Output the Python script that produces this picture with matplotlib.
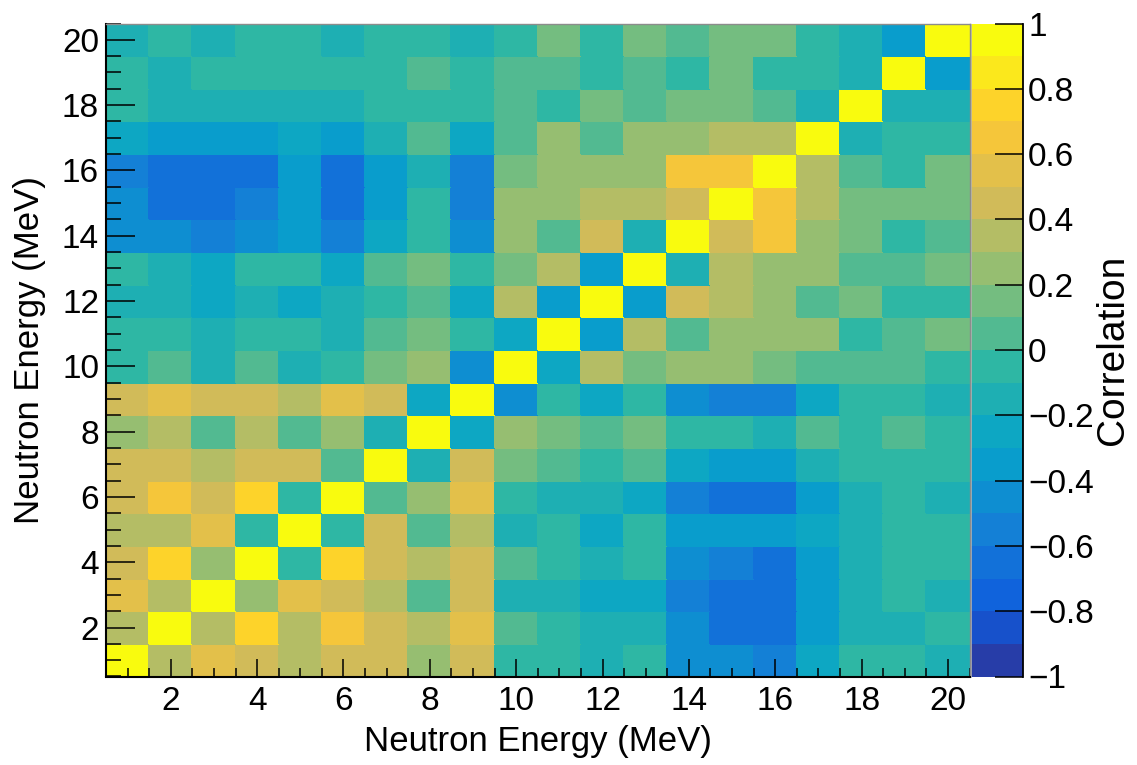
import numpy as np
import matplotlib
matplotlib.use("Agg")
import matplotlib.pyplot as plt
from matplotlib.colors import ListedColormap
from matplotlib.ticker import MultipleLocator, FuncFormatter

plt.rcParams['font.family'] = ['Liberation Sans', 'DejaVu Sans']

# neutron energy bins (MeV), 1..20
energy = np.arange(1, 21)
edges = np.arange(0.5, 21.0, 1.0)

# correlation matrix, one row per y bin (1 MeV at the bottom), columns x = 1..20
row01 = [1.0, 0.35, 0.55, 0.45, 0.35, 0.45, 0.45, 0.25, 0.45, -0.05, -0.05, -0.15, -0.05, -0.45, -0.45, -0.55, -0.25, -0.05, -0.05, -0.15]
row02 = [0.35, 1.0, 0.35, 0.75, 0.35, 0.65, 0.45, 0.35, 0.55, 0.05, -0.05, -0.15, -0.15, -0.45, -0.65, -0.65, -0.35, -0.15, -0.15, -0.05]
row03 = [0.55, 0.35, 1.0, 0.25, 0.55, 0.45, 0.35, 0.05, 0.45, -0.15, -0.15, -0.25, -0.25, -0.55, -0.65, -0.65, -0.35, -0.15, -0.05, -0.15]
row04 = [0.45, 0.75, 0.25, 1.0, -0.05, 0.75, 0.45, 0.35, 0.45, 0.05, -0.05, -0.15, -0.05, -0.45, -0.55, -0.65, -0.35, -0.15, -0.05, -0.05]
row05 = [0.35, 0.35, 0.55, -0.05, 1.0, -0.05, 0.45, 0.05, 0.35, -0.15, -0.05, -0.25, -0.05, -0.35, -0.35, -0.35, -0.25, -0.15, -0.05, -0.05]
row06 = [0.45, 0.65, 0.45, 0.75, -0.05, 1.0, 0.05, 0.25, 0.55, -0.05, -0.15, -0.15, -0.25, -0.55, -0.65, -0.65, -0.35, -0.15, -0.05, -0.15]
row07 = [0.45, 0.45, 0.35, 0.45, 0.45, 0.05, 1.0, -0.15, 0.45, 0.15, 0.05, -0.05, 0.05, -0.25, -0.35, -0.35, -0.15, -0.05, -0.05, -0.05]
row08 = [0.25, 0.35, 0.05, 0.35, 0.05, 0.25, -0.15, 1.0, -0.25, 0.25, 0.15, 0.05, 0.15, -0.05, -0.05, -0.15, 0.05, -0.05, 0.05, -0.05]
row09 = [0.45, 0.55, 0.45, 0.45, 0.35, 0.55, 0.45, -0.25, 1.0, -0.45, -0.05, -0.25, -0.05, -0.45, -0.55, -0.55, -0.25, -0.05, -0.05, -0.15]
row10 = [-0.05, 0.05, -0.15, 0.05, -0.15, -0.05, 0.15, 0.25, -0.45, 1.0, -0.25, 0.35, 0.15, 0.25, 0.25, 0.15, 0.05, 0.05, 0.05, -0.05]
row11 = [-0.05, -0.05, -0.15, -0.05, -0.05, -0.15, 0.05, 0.15, -0.05, -0.25, 1.0, -0.35, 0.35, 0.05, 0.25, 0.25, 0.25, -0.05, 0.05, 0.15]
row12 = [-0.15, -0.15, -0.25, -0.15, -0.25, -0.15, -0.05, 0.05, -0.25, 0.35, -0.35, 1.0, -0.35, 0.45, 0.35, 0.25, 0.05, 0.15, -0.05, -0.05]
row13 = [-0.05, -0.15, -0.25, -0.05, -0.05, -0.25, 0.05, 0.15, -0.05, 0.15, 0.35, -0.35, 1.0, -0.15, 0.35, 0.25, 0.25, 0.05, 0.05, 0.15]
row14 = [-0.45, -0.45, -0.55, -0.45, -0.35, -0.55, -0.25, -0.05, -0.45, 0.25, 0.05, 0.45, -0.15, 1.0, 0.45, 0.65, 0.25, 0.15, -0.05, 0.05]
row15 = [-0.45, -0.65, -0.65, -0.55, -0.35, -0.65, -0.35, -0.05, -0.55, 0.25, 0.25, 0.35, 0.35, 0.45, 1.0, 0.65, 0.35, 0.15, 0.15, 0.15]
row16 = [-0.55, -0.65, -0.65, -0.65, -0.35, -0.65, -0.35, -0.15, -0.55, 0.15, 0.25, 0.25, 0.25, 0.65, 0.65, 1.0, 0.35, 0.05, -0.05, 0.15]
row17 = [-0.25, -0.35, -0.35, -0.35, -0.25, -0.35, -0.15, 0.05, -0.25, 0.05, 0.25, 0.05, 0.25, 0.25, 0.35, 0.35, 1.0, -0.15, -0.05, -0.05]
row18 = [-0.05, -0.15, -0.15, -0.15, -0.15, -0.15, -0.05, -0.05, -0.05, 0.05, -0.05, 0.15, 0.05, 0.15, 0.15, 0.05, -0.15, 1.0, -0.15, -0.15]
row19 = [-0.05, -0.15, -0.05, -0.05, -0.05, -0.05, -0.05, 0.05, -0.05, 0.05, 0.05, -0.05, 0.05, -0.05, 0.15, -0.05, -0.05, -0.15, 1.0, -0.35]
row20 = [-0.15, -0.05, -0.15, -0.05, -0.05, -0.15, -0.05, -0.05, -0.15, -0.05, 0.15, -0.05, 0.15, 0.05, 0.15, 0.15, -0.05, -0.15, -0.35, 1.0]

corr = np.array([row01, row02, row03, row04, row05, row06, row07, row08, row09, row10,
                 row11, row12, row13, row14, row15, row16, row17, row18, row19, row20])

cbar_ticks = np.linspace(-1, 1, 11)

# ROOT kBird palette, 20 contour levels
stops = [0.0, 0.125, 0.25, 0.375, 0.5, 0.625, 0.75, 0.875, 1.0]
red = [0.2082, 0.0592, 0.0780, 0.0232, 0.1802, 0.5301, 0.8186, 0.9956, 0.9764]
green = [0.1664, 0.3599, 0.5041, 0.6419, 0.7178, 0.7492, 0.7328, 0.7862, 0.9832]
blue = [0.5293, 0.8684, 0.8385, 0.7914, 0.6425, 0.4662, 0.3499, 0.1968, 0.0539]
nlev = 20
frac = np.array([int((i + 0.99) * 255 / nlev) / 254 for i in range(nlev)])
cols = np.column_stack([np.interp(frac, stops, red),
                        np.interp(frac, stops, green),
                        np.interp(frac, stops, blue)])
cmap = ListedColormap(cols)

W, H = 1137, 765
fig = plt.figure(figsize=(W / 100, H / 100), dpi=100)
x0, x1, ytop, ybot = 106, 969.5, 23.5, 676.5
ax = fig.add_axes([x0 / W, 1 - ybot / H, (x1 - x0) / W, (ybot - ytop) / H])
cax = fig.add_axes([971 / W, 1 - ybot / H, 51.5 / W, (ybot - ytop) / H])

mesh = ax.pcolormesh(edges, edges, corr, cmap=cmap, vmin=-1, vmax=1,
                     edgecolors='face', linewidth=0.3)
ax.set_xlim(0.5, 20.5)
ax.set_ylim(0.5, 20.5)

ax.xaxis.set_major_locator(MultipleLocator(2))
ax.xaxis.set_minor_locator(MultipleLocator(0.5))
ax.yaxis.set_major_locator(MultipleLocator(2))
ax.yaxis.set_minor_locator(MultipleLocator(0.5))
ax.tick_params(axis='x', which='major', direction='in', length=13, width=1.1, labelsize=24, pad=7)
ax.tick_params(axis='x', which='minor', direction='in', length=6.5, width=1.1)
ax.tick_params(axis='y', which='major', direction='in', length=21, width=1.1, labelsize=24, pad=5)
ax.tick_params(axis='y', which='minor', direction='in', length=10.5, width=1.1)
for s in ['left', 'bottom']:
    ax.spines[s].set_linewidth(1.5)
    ax.spines[s].set_color('black')
for s in ['top', 'right']:
    ax.spines[s].set_linewidth(1.0)
    ax.spines[s].set_color('#8c8c8c')

ax.set_xlabel('Neutron Energy (MeV)', fontsize=25, va='center')
ax.xaxis.set_label_coords(0.5, (ybot - 741) / (ybot - ytop))
ax.set_ylabel('Neutron Energy (MeV)', fontsize=25, va='center')
ax.yaxis.set_label_coords((30 - x0) / (x1 - x0), 0.5)

cbar = fig.colorbar(mesh, cax=cax)
cbar.set_ticks(cbar_ticks)
cbar.minorticks_off()
cbar.formatter = FuncFormatter(lambda v, p: ('%g' % round(v, 1)).replace('-', '\u2212') if abs(v) > 1e-9 else '0')
cbar.update_ticks()
cax.tick_params(axis='y', direction='in', length=20, width=1.1, labelsize=24, pad=4, color='black')
cbar.outline.set_visible(False)
cax.plot([1, 1], [0, 1], transform=cax.transAxes, color='black', lw=1.3, clip_on=False)
cax.plot([0, 0], [0, 1], transform=cax.transAxes, color='#b0b0b0', lw=0.6, clip_on=False)
cax.set_ylabel('Correlation', fontsize=28, rotation=90, va='center', ha='center')
cax.yaxis.set_label_coords((1113 - 971) / 51.5, 0.5)

fig.savefig('out.png', dpi=100)
